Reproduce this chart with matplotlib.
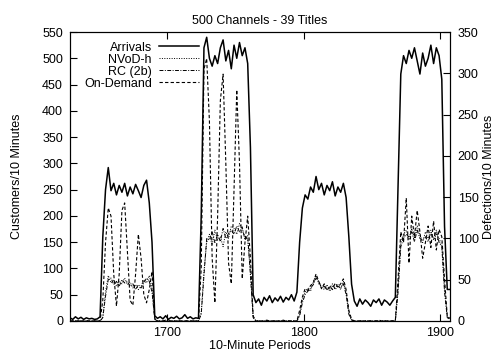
import matplotlib.pyplot as plt
import numpy as np

plt.rcParams['font.family'] = ['Liberation Sans', 'DejaVu Sans']

# one sample every 2 periods, 1629..1907
periods = np.arange(1629, 1908, 2)

# customers/10 min (left axis)
arrivals = [
    6, 3, 8, 4, 7, 3, 6, 4, 5, 3,
    4, 8, 160, 250, 292, 248, 262, 240, 258, 245,
    262, 238, 255, 242, 260, 248, 235, 258, 268, 225,
    150, 10, 5, 8, 4, 10, 3, 7, 5, 9,
    4, 6, 12, 5, 8, 4, 6, 5, 200, 520,
    540, 500, 485, 505, 490, 520, 535, 495, 515, 480,
    525, 500, 530, 505, 520, 490, 330, 50, 35, 42,
    30, 45, 38, 48, 35, 44, 38, 47, 36, 45,
    40, 50, 38, 55, 150, 215, 240, 232, 255, 245,
    275, 250, 262, 240, 258, 248, 265, 238, 255, 245,
    262, 235, 160, 70, 38, 28, 42, 32, 40, 35,
    28, 40, 35, 42, 30, 40, 36, 30, 38, 45,
    260, 470, 505, 490, 515, 500, 520, 495, 470, 510,
    485, 500, 525, 490, 520, 505, 460, 180, 60, 60,
]

# defections/10 min (right axis)
nvod_h = [
    0, 0, 0, 0, 0, 0, 0, 0, 0, 0,
    0, 0, 5, 35, 55, 46, 50, 42, 48, 45,
    52, 44, 47, 40, 44, 38, 42, 50, 46, 55,
    40, 3, 0, 0, 0, 0, 0, 0, 0, 0,
    0, 0, 0, 0, 0, 0, 0, 0, 10, 60,
    95, 105, 92, 110, 98, 102, 90, 108, 100, 115,
    112, 105, 118, 110, 102, 98, 60, 5, 0, 0,
    0, 0, 0, 0, 0, 0, 0, 0, 0, 0,
    0, 0, 0, 0, 8, 25, 35, 40, 36, 48,
    55, 45, 42, 38, 44, 36, 42, 40, 44, 38,
    48, 35, 10, 1, 0, 0, 0, 0, 0, 0,
    0, 0, 0, 0, 0, 0, 0, 0, 0, 0,
    40, 95, 105, 110, 98, 112, 100, 115, 105, 95,
    108, 100, 110, 98, 105, 100, 92, 40, 5, 3,
]

rc_2b = [
    0, 0, 0, 0, 0, 0, 0, 0, 0, 0,
    0, 0, 4, 30, 50, 52, 44, 48, 42, 50,
    46, 48, 42, 45, 38, 44, 40, 46, 52, 48,
    35, 2, 0, 0, 0, 0, 0, 0, 0, 0,
    0, 0, 0, 0, 0, 0, 0, 0, 8, 55,
    100, 98, 108, 95, 105, 96, 112, 100, 106, 110,
    105, 115, 108, 114, 98, 104, 55, 4, 0, 0,
    0, 0, 0, 0, 0, 0, 0, 0, 0, 0,
    0, 0, 0, 0, 6, 22, 32, 36, 40, 44,
    52, 48, 40, 42, 38, 40, 45, 38, 42, 40,
    45, 32, 8, 1, 0, 0, 0, 0, 0, 0,
    0, 0, 0, 0, 0, 0, 0, 0, 0, 0,
    35, 90, 100, 105, 102, 108, 96, 110, 100, 98,
    102, 96, 106, 100, 110, 95, 90, 35, 4, 2,
]

on_demand = [
    0, 0, 0, 0, 0, 0, 0, 0, 0, 0,
    0, 0, 25, 95, 137, 127, 57, 18, 57, 134,
    143, 83, 25, 19, 57, 105, 76, 32, 22, 38,
    60, 3, 0, 0, 0, 1, 0, 0, 0, 0,
    0, 0, 0, 0, 0, 0, 0, 0, 64, 305,
    318, 242, 76, 22, 127, 267, 299, 191, 70, 45,
    159, 280, 191, 51, 95, 127, 76, 6, 0, 0,
    0, 0, 1, 0, 0, 0, 0, 0, 1, 0,
    0, 0, 0, 0, 13, 29, 39, 37, 43, 46,
    57, 48, 39, 45, 37, 42, 38, 46, 41, 45,
    51, 38, 13, 2, 0, 0, 0, 0, 0, 0,
    0, 0, 0, 1, 0, 0, 0, 0, 0, 0,
    51, 108, 95, 149, 70, 127, 102, 134, 108, 76,
    95, 115, 89, 121, 86, 111, 102, 51, 6, 3,
]

fig = plt.figure(figsize=(4.95, 3.53), dpi=100)
ax = fig.add_axes([0.1414, 0.0907, 0.7677, 0.8186])
ax2 = ax.twinx()

l1, = ax.plot(periods, arrivals, color='black', lw=1.1, label='Arrivals')
l2, = ax2.plot(periods, nvod_h, color='black', lw=0.7, ls=(0, (1, 1.5)), label='NVoD-h')
l3, = ax2.plot(periods, rc_2b, color='black', lw=0.7, ls=(0, (4, 1.5, 1, 1.5)), label='RC (2b)')
l4, = ax2.plot(periods, on_demand, color='black', lw=0.8, ls=(0, (3, 2)), label='On-Demand')

ax.set_xlim(1629, 1907)
ax.set_ylim(0, 550)
ax2.set_ylim(0, 350)
ax.set_xticks([1700, 1800, 1900])
ax.set_yticks(np.arange(0, 551, 50))
ax2.set_yticks(np.arange(0, 351, 50))

ax.tick_params(axis='both', direction='in', length=5, labelsize=9, top=True)
ax.tick_params(axis='y', pad=5)
ax.tick_params(axis='x', pad=4)
ax2.tick_params(axis='y', direction='in', length=5, labelsize=9, pad=5.5)

ax.set_title('500 Channels - 39 Titles', fontsize=9, pad=6)
ax.set_xlabel('10-Minute Periods', fontsize=9, labelpad=1)
ax.set_ylabel('Customers/10 Minutes', fontsize=9)
ax.yaxis.set_label_coords(-0.124, 0.5)
ax2.set_ylabel('Defections/10 Minutes', fontsize=9)
ax2.yaxis.set_label_coords(1.088, 0.5)

ax2.legend(handles=[l1, l2, l3, l4], loc='upper right', bbox_to_anchor=(0.355, 0.988),
           frameon=False, markerfirst=False, fontsize=9, borderpad=0,
           handlelength=3.2, handletextpad=0.55, labelspacing=0.0)

fig.savefig('out.png', dpi=100)
